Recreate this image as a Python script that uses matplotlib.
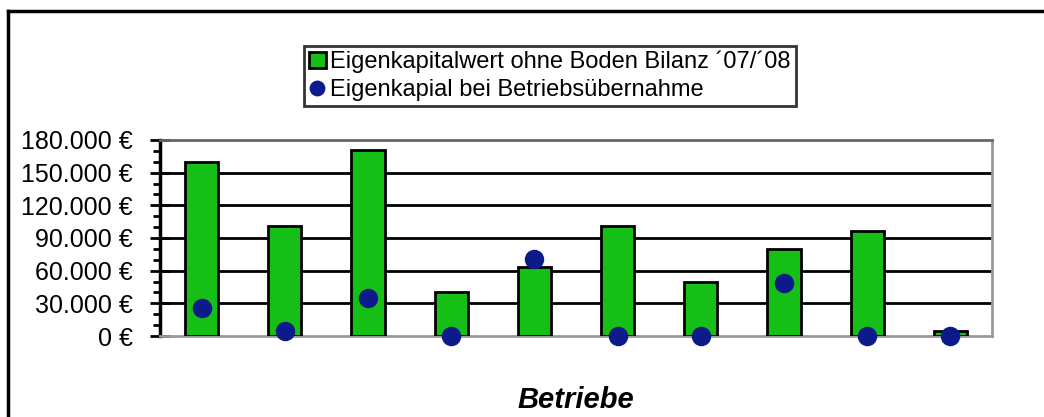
import matplotlib.pyplot as plt
from matplotlib.lines import Line2D
from matplotlib.ticker import FuncFormatter, MultipleLocator
import numpy as np

plt.rcParams['font.family'] = ['Liberation Sans', 'DejaVu Sans']

# Daten
betriebe = [1, 2, 3, 4, 5, 6, 7, 8, 9, 10]
eigenkapital_bilanz = [160000, 101000, 171000, 40000, 63000, 101000, 49500, 80000, 96500, 4500]
eigenkapital_uebernahme = [25500, 4500, 35000, 0, 71000, 0, 0, 48500, 0, 0]

fig = plt.figure(figsize=(10.44, 4.17), dpi=100)
ax = fig.add_axes([160 / 1044, 1 - 336 / 417, 832 / 1044, 196 / 417])

x = np.arange(len(betriebe))
balken = ax.bar(x, eigenkapital_bilanz, width=0.4, color='#16bf16', edgecolor='black',
                linewidth=2, label='Eigenkapitalwert ohne Boden Bilanz ´07/´08', zorder=3)
punkte, = ax.plot(x, eigenkapital_uebernahme, 'o', color='#0c1a8c', markersize=13,
                  label='Eigenkapial bei Betriebsübernahme', zorder=4, clip_on=False)

ax.set_xlim(-0.5, len(betriebe) - 0.5)
ax.set_ylim(0, 180000)
ax.yaxis.set_major_locator(MultipleLocator(30000))
ax.yaxis.set_minor_locator(MultipleLocator(10000))
ax.yaxis.set_major_formatter(FuncFormatter(lambda v, p: f'{int(v):,} €'.replace(',', '.')))
ax.set_xticks([])
ax.tick_params(axis='y', which='major', direction='inout', length=14, width=2, pad=12.5, labelsize=18)
ax.tick_params(axis='y', which='minor', length=5, width=2)

for yv in range(30000, 180000, 30000):
    ax.axhline(yv, color='black', linewidth=2, zorder=1)

ax.spines['left'].set_linewidth(2.5)
for s in ['top', 'right', 'bottom']:
    ax.spines[s].set_color('#999999')
    ax.spines[s].set_linewidth(2)
ax.spines['top'].set_color('#666666')

ax.set_xlabel('Betriebe', fontsize=21, fontweight='bold', fontstyle='italic', labelpad=36)

leg = fig.legend([balken, punkte], [balken.get_label(), punkte.get_label()],
                 loc='center', bbox_to_anchor=(550 / 1044, 1 - 76 / 417), fontsize=17,
                 frameon=True, fancybox=False, edgecolor='black', handlelength=0.7,
                 handleheight=0.7, handletextpad=0.2, borderpad=0.2, labelspacing=0.25,
                 borderaxespad=0, markerscale=0.8)
leg.get_frame().set_linewidth(2)

# Rahmen um die Grafik
fig.add_artist(Line2D([8 / 1044, 8 / 1044], [0, 1 - 11 / 417], color='black', linewidth=2.5))
fig.add_artist(Line2D([8 / 1044, 1], [1 - 11 / 417, 1 - 11 / 417], color='black', linewidth=2.5))

fig.savefig('out.png', dpi=100)
